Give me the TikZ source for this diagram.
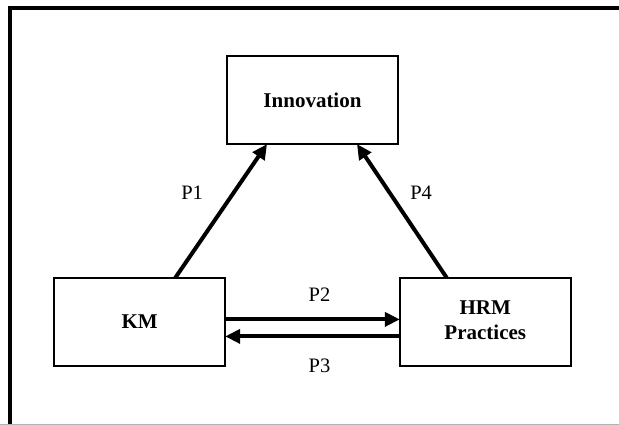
\documentclass[tikz,border=0pt]{standalone}
\usepackage{fontspec}
\setmainfont{Liberation Serif}
\usetikzlibrary{matrix,arrows.meta}

\begin{document}
\begin{tikzpicture}[x=1pt, y=1pt, >={Triangle[length=15pt,width=14pt]},
  font=\fontsize{20.5}{25}\selectfont,
  plabel/.style={inner sep=0pt}]
  \useasboundingbox (0,-425) rectangle (619,0);
  \draw[line width=4pt] (10,-425) -- (10,-8) -- (619,-8);
  \draw[gray!60, line width=1pt] (0,-424.5) -- (619,-424.5);
  \matrix (m) at (312.5,-211) [matrix of nodes, row sep=132pt, column sep=0pt,
    nodes={draw, line width=1.8pt, minimum width=171pt, minimum height=88pt,
      outer sep=0pt, anchor=center, font=\fontsize{21}{25}\selectfont\bfseries}]
  {
        & Innovation &  \\
  KM    &            & \begin{tabular}{@{}c@{}}HRM\\Practices\end{tabular} \\ };
\path[->, line width=4pt]
  ([xshift=35.5pt]m-2-1.north) edge node [plabel, pos=.64, left=29pt] {P1} ([xshift=-45.5pt]m-1-2.south)
  ([xshift=-38.5pt]m-2-3.north) edge node [plabel, pos=.64, right=19pt] {P4} ([xshift=44.5pt]m-1-2.south)
  ([yshift=2.5pt]m-2-1.east) edge node [plabel, pos=.54, above=16pt] {P2} ([yshift=2.5pt]m-2-3.west)
  ([yshift=-14.5pt]m-2-3.west) edge node [plabel, pos=.46, below=20.5pt] {P3} ([yshift=-14.5pt]m-2-1.east);
\end{tikzpicture}
\end{document}
